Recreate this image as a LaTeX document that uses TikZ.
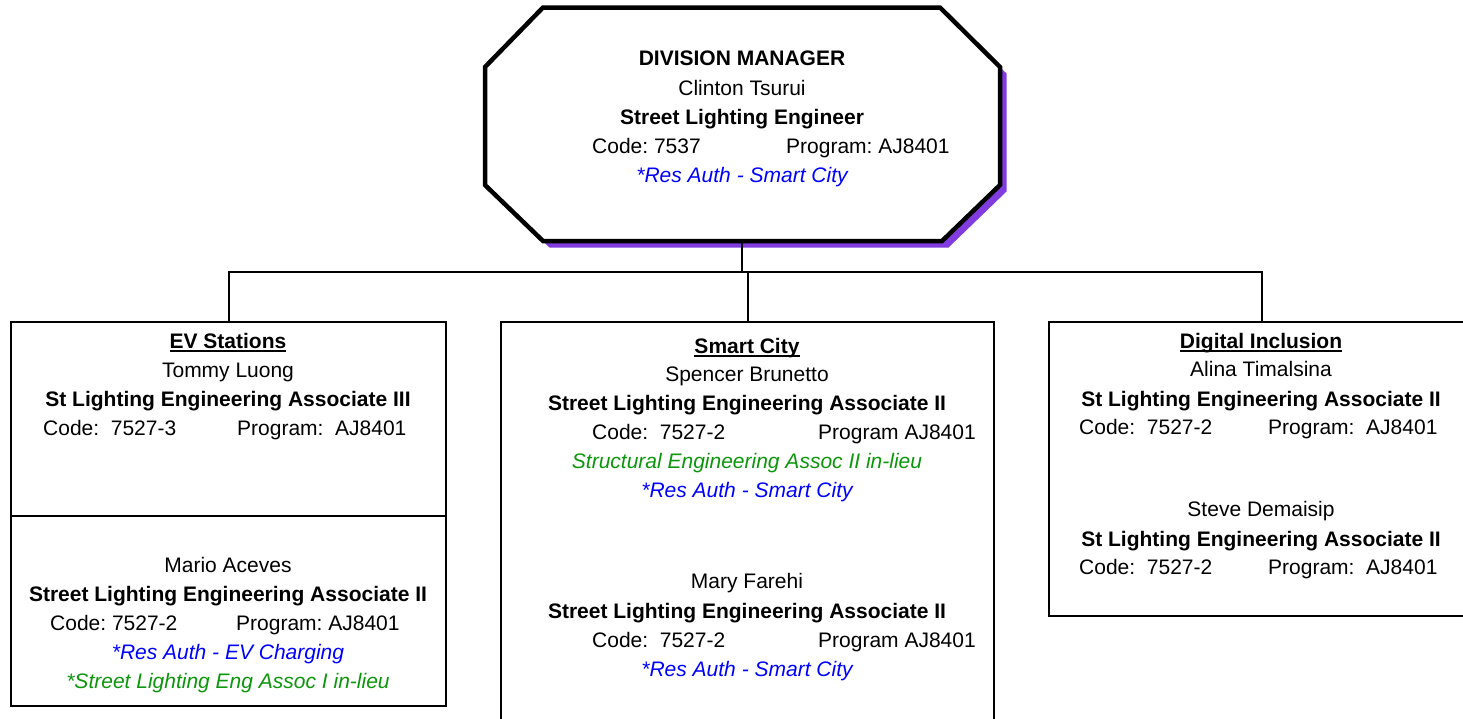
\documentclass[tikz,border=0pt]{standalone}
\usepackage{fontspec}
\setmainfont{Liberation Sans}
\usepackage{xcolor}
\usetikzlibrary{positioning,calc}
\frenchspacing

\definecolor{shadowpurple}{RGB}{128,60,222}
\definecolor{resblue}{RGB}{0,0,255}
\definecolor{lieugreen}{RGB}{12,150,12}
\newcommand{\ulttl}[1]{\setbox0\hbox{#1}\rlap{\rule[-3.5pt]{\wd0}{1.5pt}}\box0}

\begin{document}
\begin{tikzpicture}[x=1pt, y=-1pt,
    txt/.style={font=\fontsize{21}{25}\selectfont, anchor=base, inner sep=0pt},
    hd/.style={txt, font=\fontsize{21}{25}\selectfont\bfseries},
    res/.style={txt, text=resblue, font=\fontsize{21}{25}\selectfont\itshape},
    lieu/.style={txt, text=lieugreen, font=\fontsize{21}{25}\selectfont\itshape},
    cd/.style={txt, anchor=base west},
    unit/.style={draw, line width=2pt, anchor=north west, inner sep=0pt},
    link/.style={line width=2pt}]
    \useasboundingbox (0,0) rectangle (1463,718);

    % division manager octagon with its shadow
    \fill[shadowpurple, shift={(6.5,6.5)}] (543,7.5) -- (940,7.5) -- (1000,67) -- (1000,185) -- (942,241)
        -- (543,241) -- (485,185) -- (485,67) -- cycle;
    \draw[line width=4.5pt, fill=white] (543,7.5) -- (940,7.5) -- (1000,67) -- (1000,185) -- (942,241)
        -- (543,241) -- (485,185) -- (485,67) -- cycle;
    \coordinate (mgrbot) at (742,241);

    \node[hd] (mgrttl) at (742,65) {DIVISION MANAGER};
    \node[txt] (mgrname) at (742,95) {Clinton Tsurui};
    \node[hd] (mgrjob) at (742,124) {Street Lighting Engineer};
    \node[cd] (mgrcode) at (592,153) {Code: 7537};
    \node[cd] (mgrprog) at (786,153) {Program: AJ8401};
    \node[res] (mgrres) at (742,182) {*Res Auth - Smart City};

    % section boxes
    \node[unit, minimum width=435pt, minimum height=384pt] (ev) at (10,321) {};
    \node[unit, minimum width=493pt, minimum height=420pt] (smart) at (500,321) {};
    \node[unit, minimum width=426pt, minimum height=294pt] (digital) at (1048,321) {};
    \coordinate (evsplit) at (10,516);
    \draw[link] (evsplit) -- (evsplit -| ev.east);

    % connectors
    \draw[link] (mgrbot) -- ++(0,31);
    \draw[link] (ev.north) -- ++(0,-49) -| (digital.north);
    \draw[link] (smart.north) -- ++(0,-49);

    % EV Stations
    \node[hd] (evttl) at (228,348) {\ulttl{EV Stations}};
    \node[txt] (tommy) at (228,377) {Tommy Luong};
    \node[hd] (tommyjob) at (228,406) {St Lighting Engineering Associate III};
    \node[cd] (tommycode) at (43,435) {Code:\ \ 7527-3};
    \node[cd] (tommyprog) at (237,435) {Program:\ \ AJ8401};

    \node[txt] (mario) at (228,572) {Mario Aceves};
    \node[hd] (mariojob) at (228,601) {Street Lighting Engineering Associate II};
    \node[cd] (mariocode) at (50,630) {Code: 7527-2};
    \node[cd] (marioprog) at (236,630) {Program: AJ8401};
    \node[res] (mariores) at (228,659) {*Res Auth - EV Charging};
    \node[lieu] (mariolieu) at (228,688) {*Street Lighting Eng Assoc I in-lieu};

    % Smart City
    \node[hd] (scttl) at (747,353) {\ulttl{Smart City}};
    \node[txt] (spencer) at (747,381) {Spencer Brunetto};
    \node[hd] (spencerjob) at (747,410) {Street Lighting Engineering Associate II};
    \node[cd] (spencercode) at (592,439) {Code:\ \ 7527-2};
    \node[cd] (spencerprog) at (818,439) {Program AJ8401};
    \node[lieu] (spencerlieu) at (747,468) {Structural Engineering Assoc II in-lieu};
    \node[res] (spencerres) at (747,497) {*Res Auth - Smart City};

    \node[txt] (mary) at (747,588) {Mary Farehi};
    \node[hd] (maryjob) at (747,618) {Street Lighting Engineering Associate II};
    \node[cd] (marycode) at (592,647) {Code:\ \ 7527-2};
    \node[cd] (maryprog) at (818,647) {Program AJ8401};
    \node[res] (maryres) at (747,676) {*Res Auth - Smart City};

    % Digital Inclusion
    \node[hd] (dittl) at (1261,348) {\ulttl{Digital Inclusion}};
    \node[txt] (alina) at (1261,376) {Alina Timalsina};
    \node[hd] (alinajob) at (1261,406) {St Lighting Engineering Associate II};
    \node[cd] (alinacode) at (1079,434) {Code:\ \ 7527-2};
    \node[cd] (alinaprog) at (1268,434) {Program:\ \ AJ8401};

    \node[txt] (steve) at (1261,516) {Steve Demaisip};
    \node[hd] (stevejob) at (1261,546) {St Lighting Engineering Associate II};
    \node[cd] (stevecode) at (1079,574) {Code:\ \ 7527-2};
    \node[cd] (steveprog) at (1268,574) {Program:\ \ AJ8401};
\end{tikzpicture}
\end{document}
